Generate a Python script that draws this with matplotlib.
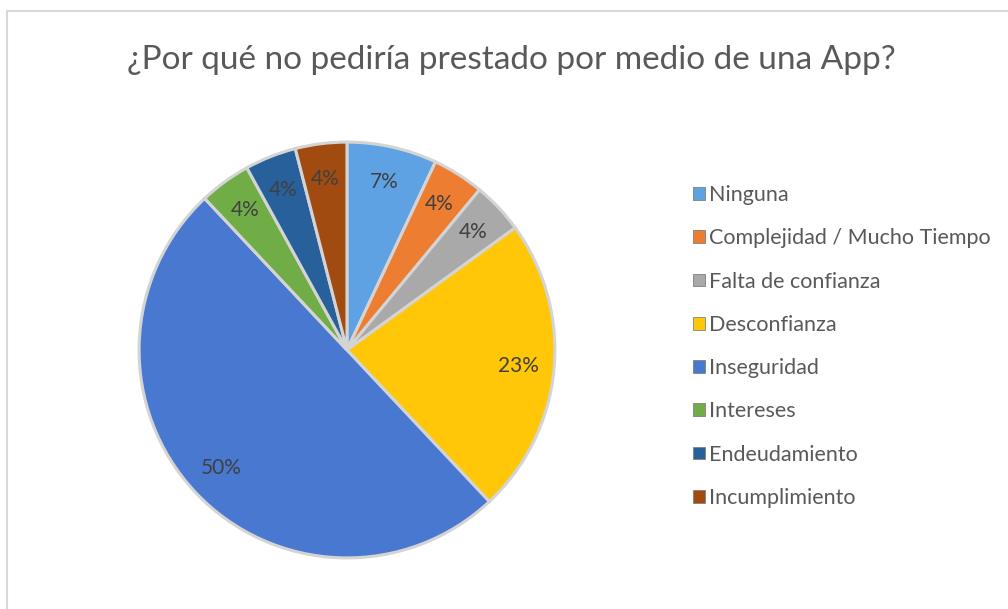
import matplotlib.pyplot as plt
from matplotlib.lines import Line2D
from matplotlib.patches import Patch

plt.rcParams['font.family'] = ['Lato', 'DejaVu Sans']

# survey answers, in the order the slices run clockwise from the top
categories = ["Ninguna", "Complejidad / Mucho Tiempo", "Falta de confianza",
              "Desconfianza", "Inseguridad", "Intereses", "Endeudamiento",
              "Incumplimiento"]
percentages = [7, 4, 4, 23, 50, 4, 4, 4]
colors = ["#5FA2E3", "#ED7D31", "#A9A9A9", "#FFC708",
          "#4878CF", "#70AD47", "#27609A", "#A24B10"]

W, H = 1008, 609
fig = plt.figure(figsize=(W / 100, H / 100), dpi=100)

# chart frame (left and top edges only are inside the image)
fig.add_artist(Line2D([7 / W, 7 / W], [0, 1 - 11 / H], color="#d9d9d9", lw=1.5,
                      transform=fig.transFigure))
fig.add_artist(Line2D([7 / W, 1], [1 - 11 / H, 1 - 11 / H], color="#d9d9d9", lw=1.5,
                      transform=fig.transFigure))

fig.text(511 / W, 1 - 60 / H, "¿Por qué no pediría prestado por medio de una App?",
         ha="center", va="center", fontsize=24, color="#595959")

# pie centred at (347, 350) px with 210 px radius
cx, cy, r = 347, 350, 210
ax = fig.add_axes([(cx - r) / W, (H - cy - r) / H, 2 * r / W, 2 * r / H])
wedges, texts, autotexts = ax.pie(
    percentages, colors=colors, startangle=90, counterclock=False,
    autopct="%d%%", pctdistance=0.83, radius=1,
    wedgeprops=dict(edgecolor="#d4d4d4", linewidth=2.2),
    textprops=dict(fontsize=15, color="#404040"))
ax.set_xlim(-1.01, 1.01)
ax.set_ylim(-1.01, 1.01)
ax.set_aspect("equal")
ax.axis("off")

handles = [Patch(facecolor=c, edgecolor="#808080", linewidth=0.6) for c in colors]
fig.legend(handles, categories, loc="center left",
           bbox_to_anchor=(693 / W, 1 - 346.5 / H), frameon=False,
           fontsize=15.5, labelcolor="#595959", handlelength=0.55,
           handleheight=0.55, handletextpad=0.2, labelspacing=1.08,
           borderpad=0, borderaxespad=0)

fig.savefig("out.png", dpi=100, facecolor="white")
